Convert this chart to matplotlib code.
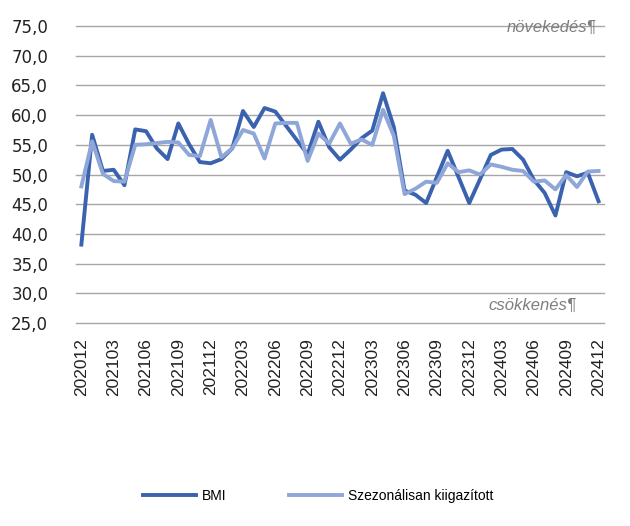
import numpy as np
import matplotlib
matplotlib.use("Agg")
import matplotlib.pyplot as plt

# monthly periods 202012 .. 202412
periods = ["202012", "202101", "202102", "202103", "202104", "202105", "202106",
           "202107", "202108", "202109", "202110", "202111", "202112",
           "202201", "202202", "202203", "202204", "202205", "202206",
           "202207", "202208", "202209", "202210", "202211", "202212",
           "202301", "202302", "202303", "202304", "202305", "202306",
           "202307", "202308", "202309", "202310", "202311", "202312",
           "202401", "202402", "202403", "202404", "202405", "202406",
           "202407", "202408", "202409", "202410", "202411", "202412"]

bmi = [38.2, 56.7, 50.6, 50.8, 48.2, 57.6, 57.3, 54.4, 52.6, 58.6, 55.1, 52.1, 51.9,
       52.6, 54.4, 60.7, 58.0, 61.2, 60.6, 58.2, 55.8, 53.4, 58.9, 54.6, 52.5,
       54.2, 56.1, 57.4, 63.7, 58.0, 47.3, 46.6, 45.2, 49.6, 54.0, 49.6, 45.2,
       49.2, 53.3, 54.2, 54.3, 52.5, 49.1, 46.9, 43.1, 50.4, 49.7, 50.3, 45.5]

szezonalis = [48.0, 55.6, 50.1, 48.9, 48.8, 55.0, 55.1, 55.3, 55.5, 55.4, 53.3, 53.1, 59.2,
              52.9, 54.4, 57.5, 56.9, 52.7, 58.6, 58.7, 58.7, 52.3, 56.9, 55.2, 58.6,
              55.2, 55.9, 55.0, 60.9, 56.5, 46.7, 47.6, 48.8, 48.6, 51.9, 50.4, 50.7,
              50.0, 51.7, 51.3, 50.8, 50.6, 48.8, 49.0, 47.5, 49.9, 47.9, 50.5, 50.6]

yticks = np.arange(25, 76, 5)

fig = plt.figure(figsize=(6.3, 5.26), dpi=100)
ax = fig.add_axes([0.1206, 0.386, 0.838, 0.5644])

x = np.arange(len(periods))
ax.plot(x, bmi, color="#3A62AE", lw=2.8, label="BMI", solid_joinstyle="round")
ax.plot(x, szezonalis, color="#8EA6D8", lw=2.8, label="Szezonálisan kiigazított",
        solid_joinstyle="round")

ax.set_xlim(-0.5, len(periods) - 0.5)
ax.set_ylim(25, 75)
ax.set_yticks(yticks)
ax.set_yticklabels([f"{v:.1f}".replace(".", ",") for v in yticks],
                   fontsize=12, color="#222222")
ax.set_xticks(x[::3])
ax.set_xticklabels(periods[::3], rotation=90, fontsize=12.5,
                   family="Liberation Sans", color="#222222")
ax.tick_params(axis="y", length=0, pad=20)
ax.tick_params(axis="x", length=0, pad=11)
ax.grid(axis="y", color="#A6A6A6", lw=1.0)
for gl in ax.get_ygridlines():
    gl.set_clip_on(False)
ax.set_axisbelow(True)
for s in ax.spines.values():
    s.set_visible(False)

ax.text(0.985, 0.995, "növekedés¶", transform=ax.transAxes, ha="right", va="center",
        style="italic", fontsize=12, color="#7F7F7F", family="Liberation Sans")
ax.text(0.947, 0.06, "csökkenés¶", transform=ax.transAxes, ha="right", va="center",
        style="italic", fontsize=12, color="#7F7F7F", family="Liberation Sans")

fig.legend(loc="center", bbox_to_anchor=(0.505, 0.057), ncol=2, frameon=False,
           handlelength=3.8, handletextpad=0.45, columnspacing=4.5,
           prop={"family": "Liberation Sans", "size": 10})

fig.savefig("out.png", dpi=100)
